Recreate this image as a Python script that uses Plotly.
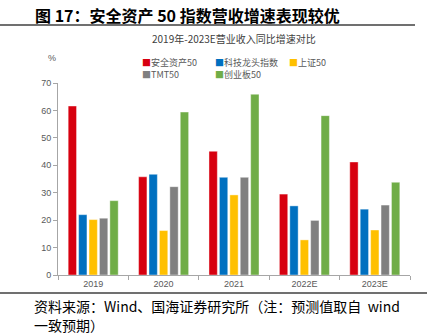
import plotly.graph_objects as go

categories = ["2019", "2020", "2021", "2022E", "2023E"]
series_names = ["安全资产50", "科技龙头指数", "上证50", "TMT50", "创业板50"]
safe50 = [61.6, 35.8, 45.1, 29.5, 41.2]
tech_leaders = [22.0, 36.7, 35.6, 25.2, 24.0]
sse50 = [20.2, 16.2, 29.2, 12.8, 16.4]
tmt50 = [20.7, 32.2, 35.6, 19.9, 25.5]
chinext50 = [27.1, 59.4, 65.9, 58.1, 33.8]
colors = ["#D7000F", "#0070C0", "#FFC000", "#808080", "#70AD47"]
y_ticks = [0, 10, 20, 30, 40, 50, 60, 70]

W, H = 427, 334
L, R, T, B = 58, 410, 83, 275

def px(x):
    return (x - L) / (R - L)

def py(y):
    return (B - y) / (B - T)

fig = go.Figure()
for name, vals, col in zip(series_names, [safe50, tech_leaders, sse50, tmt50, chinext50], colors):
    fig.add_trace(go.Bar(
        x=categories, y=vals, name=name, showlegend=False,
        marker=dict(color=col, line=dict(color="rgba(255,255,255,0.5)", width=0.8)),
    ))

cjk = "Noto Sans CJK SC"
fig.update_layout(
    width=W, height=H,
    margin=dict(l=L, r=W - R, t=T, b=H - B),
    paper_bgcolor="white", plot_bgcolor="white",
    barmode="group", bargap=0.26, bargroupgap=0.2,
    font=dict(family="Liberation Sans, Arial", size=9, color="#595959"),
    xaxis=dict(
        showline=True, linecolor="#A6A6A6", linewidth=1,
        ticks="outside", tickson="boundaries", ticklen=4, tickcolor="#A6A6A6",
        tickfont=dict(size=9, color="#595959"), showgrid=False,
    ),
    yaxis=dict(
        range=[0, 70], tickvals=y_ticks, showline=True, linecolor="#A6A6A6", linewidth=1,
        ticks="outside", ticklen=4, tickcolor="#A6A6A6", showgrid=False, zeroline=False,
        tickfont=dict(size=9, color="#595959"),
    ),
)

ann = []
ann.append(dict(x=px(33), y=py(15), xref="paper", yref="paper", xanchor="left", yanchor="middle",
                text="<b>图 17：安全资产 50 指数营收增速表现较优</b>", showarrow=False,
                font=dict(family=cjk, size=16, color="#000000")))
ann.append(dict(x=px(234), y=py(39), xref="paper", yref="paper", xanchor="center", yanchor="middle",
                text="2019年-2023E营业收入同比增速对比", showarrow=False,
                font=dict(family=cjk, size=10, color="#404040")))
ann.append(dict(x=px(52), y=py(58), xref="paper", yref="paper", xanchor="center", yanchor="middle",
                text="%", showarrow=False, font=dict(size=9, color="#595959")))
legend_pos = [(140, 62), (213, 62), (287, 62), (140, 74), (213, 74)]
for (lx, ly), name, col in zip(legend_pos, series_names, colors):
    ann.append(dict(x=px(lx), y=py(ly), xref="paper", yref="paper", xanchor="left", yanchor="middle",
                    text=f"<span style='color:{col}'>■</span>{name}", showarrow=False,
                    font=dict(family=cjk, size=9, color="#595959")))
ann.append(dict(x=px(32), y=py(306), xref="paper", yref="paper", xanchor="left", yanchor="middle",
                text="资料来源：Wind、国海证券研究所（注：预测值取自  wind", showarrow=False,
                font=dict(family=cjk, size=14, color="#000000")))
ann.append(dict(x=px(32), y=py(325), xref="paper", yref="paper", xanchor="left", yanchor="middle",
                text="一致预期）", showarrow=False,
                font=dict(family=cjk, size=14, color="#000000")))
fig.update_layout(annotations=ann)

fig.add_shape(type="line", xref="paper", yref="paper", x0=px(0), x1=px(415), y0=py(25), y1=py(25),
              line=dict(color="#404040", width=1.5))
fig.add_shape(type="line", xref="paper", yref="paper", x0=px(0), x1=px(427), y0=py(293), y1=py(293),
              line=dict(color="#404040", width=1.5))

fig.write_html("out.html")
